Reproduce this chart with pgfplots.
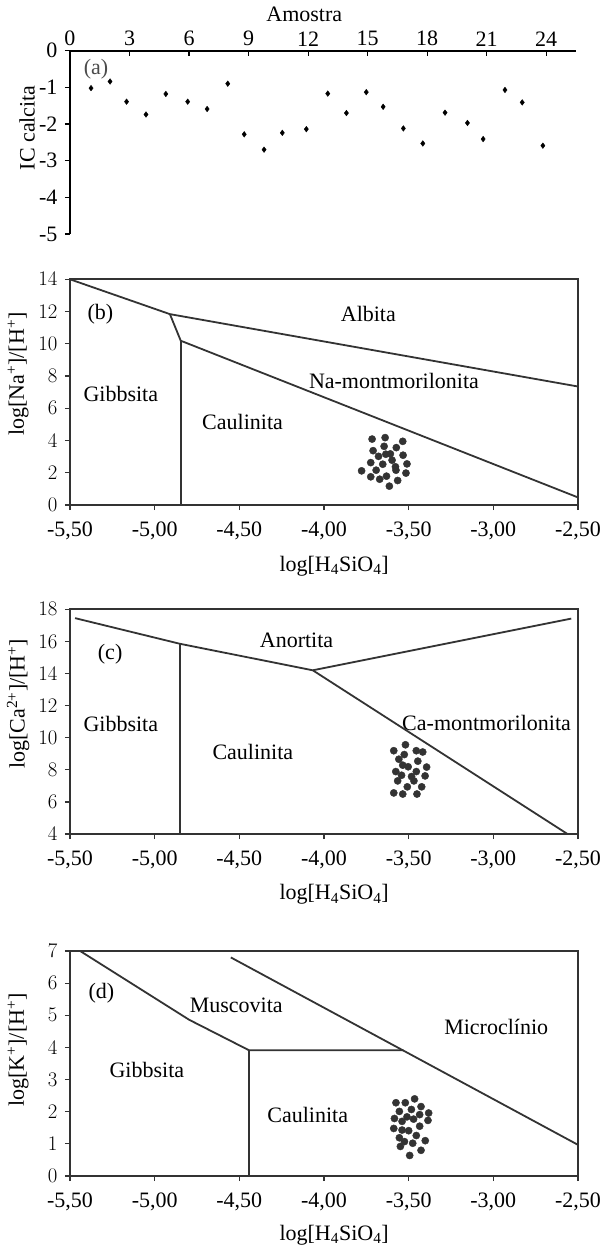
\documentclass[border=0pt]{standalone}
\usepackage{fontspec}
\setmainfont{Liberation Serif}
\usepackage{pgfplots}
\pgfplotsset{compat=1.18}
\definecolor{ink}{HTML}{333333}

\pgfplotsset{
  line/.style={ink, line width=1.8pt, mark=none},
  dots/.style={only marks, mark=*, mark size=3.6pt, mark options={fill=ink, draw=ink}},
  diagram/.style={
    scale only axis, width=508pt, anchor=south west,
    xmin=-5.5, xmax=-2.5,
    xtick={-5.5,-5,-4.5,-4,-3.5,-3,-2.5},
    xticklabels={{-5,50},{-5,00},{-4,50},{-4,00},{-3,50},{-3,00},{-2,50}},
    tick pos=left, tick align=outside, major tick length=5pt,
    axis line style={ink, line width=1.7pt},
    tick style={ink, line width=1.2pt},
    xticklabel style={yshift=-4pt},
    xlabel={log[H\textsubscript{4}SiO\textsubscript{4}]},
    xlabel style={at={(axis description cs:0.52,-0.27)}, anchor=center},
  },
}

\begin{document}
\fontsize{22}{26}\selectfont
\begin{tikzpicture}
\useasboundingbox (0,0) rectangle (602pt,-1248pt);

% (a) indice de saturacao da calcita
\begin{axis}[scale only axis, at={(70pt,-234pt)}, anchor=south west,
  width=506pt, height=183.3pt,
  xmin=0, xmax=25.5, ymin=-5, ymax=0,
  axis x line*=top, axis y line*=left,
  xtick={0,3,...,24}, xticklabels={0,3,6,9,12,15,18,21,24},
  ytick={-5,...,0}, yticklabels={-5,-4,-3,-2,-1,0},
  tick align=outside, major tick length=5pt,
  axis line style={black, line width=2.3pt},
  tick style={black, line width=1.2pt},
  x tick style={yshift=-5pt},
  xticklabel style={yshift=-8pt},
  xlabel={Amostra},
  xlabel style={at={(axis description cs:0.463,1.2)}, anchor=center},
  ylabel={IC calcita},
  ylabel style={at={(axis description cs:-0.085,0.58)}, anchor=center},
]
\addplot[only marks, mark=diamond*, mark size=2.8pt, black] coordinates {
  (1.06,-1.02) (2.02,-0.84) (2.85,-1.39) (3.83,-1.74) (4.83,-1.18) (5.93,-1.39)
  (6.91,-1.59) (7.95,-0.90) (8.78,-2.28) (9.78,-2.70) (10.70,-2.24) (11.91,-2.14)
  (12.99,-1.17) (13.93,-1.70) (14.93,-1.13) (15.78,-1.53) (16.80,-2.12) (17.78,-2.53)
  (18.90,-1.69) (20.03,-1.97) (20.82,-2.41) (21.92,-1.07) (22.79,-1.41) (23.83,-2.59)
};
\node[gray!60!black] at (axis cs:1.31,-0.51) {(a)};
\end{axis}

% (b) sistema Na
\begin{axis}[diagram, at={(70pt,-505pt)}, height=225.7pt,
  ymin=0, ymax=14, ytick={0,2,...,14},
  ylabel={log[Na\textsuperscript{+}]/[H\textsuperscript{+}]},
  ylabel style={at={(axis description cs:-0.102,0.58)}, anchor=center},
]
\addplot[line] coordinates {(-5.5,14) (-4.91,11.84) (-2.5,7.35)};
\addplot[line] coordinates {(-4.91,11.84) (-4.846,10.19) (-2.5,0.47)};
\addplot[line] coordinates {(-4.846,10.19) (-4.846,0)};
\addplot[dots] coordinates {
  (-3.716,4.09) (-3.639,4.18) (-3.535,3.95) (-3.710,3.37) (-3.645,3.64)
  (-3.573,3.56) (-3.678,3.02) (-3.635,3.15) (-3.608,3.17) (-3.533,3.09)
  (-3.724,2.63) (-3.653,2.53) (-3.598,2.78) (-3.510,2.55) (-3.578,2.37)
  (-3.575,2.16) (-3.778,2.12) (-3.692,2.16) (-3.516,1.98) (-3.724,1.75)
  (-3.671,1.60) (-3.631,1.79) (-3.565,1.52) (-3.614,1.17)
};
\node at (axis cs:-5.32,11.84) {(b)};
\node at (axis cs:-3.738,11.84) {Albita};
\node at (axis cs:-5.20,6.90) {Gibbsita};
\node at (axis cs:-4.481,5.15) {Caulinita};
\node at (axis cs:-3.587,7.72) {Na-montmorilonita};
\end{axis}

% (c) sistema Ca
\begin{axis}[diagram, at={(70pt,-834pt)}, height=224.7pt,
  ymin=4, ymax=18, ytick={4,6,...,18},
  ylabel={log[Ca\textsuperscript{2+}]/[H\textsuperscript{+}]},
  ylabel style={at={(axis description cs:-0.102,0.58)}, anchor=center},
]
\addplot[line] coordinates {(-5.47,17.45) (-4.85,15.85) (-4.066,14.2) (-2.54,17.42)};
\addplot[line] coordinates {(-4.85,15.85) (-4.85,4)};
\addplot[line] coordinates {(-4.066,14.2) (-2.562,4)};
\addplot[dots] coordinates {
  (-3.588,9.19) (-3.519,9.56) (-3.455,9.19) (-3.417,9.11) (-3.558,8.66)
  (-3.526,8.95) (-3.446,8.54) (-3.535,8.29) (-3.503,8.19) (-3.394,8.17)
  (-3.576,7.89) (-3.455,7.89) (-3.542,7.66) (-3.483,7.58) (-3.403,7.62)
  (-3.565,7.31) (-3.469,7.31) (-3.508,6.94) (-3.423,6.94) (-3.588,6.56)
  (-3.535,6.49) (-3.451,6.49)
};
\node at (axis cs:-5.263,15.19) {(c)};
\node at (axis cs:-4.162,16.07) {Anortita};
\node at (axis cs:-5.20,10.83) {Gibbsita};
\node at (axis cs:-4.42,9.11) {Caulinita};
\node at (axis cs:-3.04,10.89) {Ca-montmorilonita};
\end{axis}

% (d) sistema K
\begin{axis}[diagram, at={(70pt,-1176pt)}, height=225pt,
  ymin=0, ymax=7, ytick={0,...,7},
  ylabel={log[K\textsuperscript{+}]/[H\textsuperscript{+}]},
  ylabel style={at={(axis description cs:-0.102,0.56)}, anchor=center},
  xlabel style={at={(axis description cs:0.52,-0.262)}, anchor=center},
]
\addplot[line] coordinates {(-5.44,7) (-4.796,4.86) (-4.442,3.91) (-3.531,3.91)};
\addplot[line] coordinates {(-4.442,3.91) (-4.442,0)};
\addplot[line] coordinates {(-4.55,6.8) (-2.5,0.97)};
\addplot[dots] coordinates {
  (-3.575,2.28) (-3.520,2.28) (-3.465,2.40) (-3.427,2.16) (-3.555,2.01)
  (-3.484,2.07) (-3.382,1.96) (-3.584,1.79) (-3.539,1.70) (-3.510,1.84)
  (-3.471,1.77) (-3.435,1.91) (-3.386,1.73) (-3.588,1.48) (-3.539,1.43)
  (-3.500,1.41) (-3.435,1.55) (-3.555,1.19) (-3.455,1.26) (-3.525,1.07)
  (-3.402,1.10) (-3.549,0.92) (-3.476,1.02) (-3.427,0.80) (-3.494,0.64)
};
\node at (axis cs:-5.315,5.69) {(d)};
\node at (axis cs:-4.518,5.31) {Muscovita};
\node at (axis cs:-2.983,4.65) {Microclínio};
\node at (axis cs:-5.046,3.30) {Gibbsita};
\node at (axis cs:-4.096,1.90) {Caulinita};
\end{axis}
\end{tikzpicture}
\end{document}
